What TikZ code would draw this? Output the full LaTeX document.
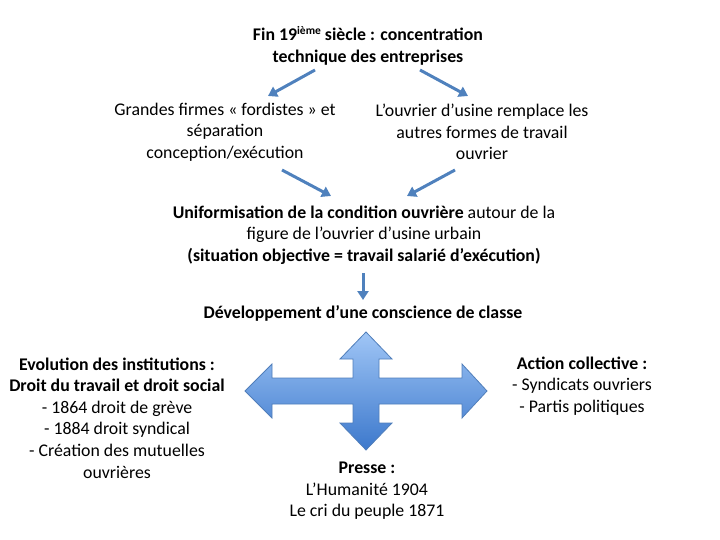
\documentclass[tikz,border=0pt]{standalone}
\usepackage{fontspec}
\setmainfont{Carlito}
\usetikzlibrary{arrows.meta}
\definecolor{flowblue}{RGB}{79,129,189}
\definecolor{crosstop}{RGB}{160,198,246}
\definecolor{crossbot}{RGB}{60,120,204}
\definecolor{crossline}{RGB}{80,126,186}

\begin{document}
\begin{tikzpicture}[x=1pt,y=-1pt,
            every node/.style={font=\fontsize{17.8}{21.6}\selectfont,align=center,inner sep=0pt},
            flow/.style={draw=flowblue,line width=3pt,-{Triangle[length=9pt,width=11pt]}}]
            \useasboundingbox (0,0) rectangle (720,540);

            \node (title) at (368,46){\textbf{Fin 19\raisebox{6pt}{\fontsize{11.5}{12}\selectfont ième} siècle : concentration}\\\textbf{technique des entreprises}};
            \node (firmes) at (225,132){Grandes firmes « fordistes » et\\séparation\\conception/exécution};
            \node (usine) at (482,132){L’ouvrier d’usine remplace les\\autres formes de travail\\ouvrier};
            \node (uniform) at (364,235){\textbf{Uniformisation de la condition ouvrière} autour de la\\figure de l’ouvrier d’usine urbain\\\textbf{(situation objective = travail salarié d’exécution)}};
            \node (conscience) at (363,313){\textbf{Développement d’une conscience de classe}};
            \node (instit) at (117,418){\textbf{Evolution des institutions :}\\\textbf{Droit du travail et droit social}\\- 1864 droit de grève\\- 1884 droit syndical\\- Création des mutuelles\\ouvrières};
            \node (action) at (582,386){\textbf{Action collective :}\\- Syndicats ouvriers\\- Partis politiques};
            \node (presse) at (367,491){\textbf{Presse :}\\L’Humanité 1904\\Le cri du peuple 1871};

            \coordinate (t_l) at (315,70);
            \coordinate (t_r) at (420,70);
            \coordinate (f_b) at (282,170);
            \coordinate (u_b) at (455,170);
            \coordinate (n_l) at (268,96);
            \coordinate (n_r) at (468,96);
            \coordinate (c_l) at (331,196);
            \coordinate (c_r) at (407,196);
            \coordinate (s_t) at (363,273);
            \coordinate (s_b) at (363,300);

            \draw[flow] (t_l) -- (n_l);
            \draw[flow] (t_r) -- (n_r);
            \draw[flow] (f_b) -- (c_l);
            \draw[flow] (u_b) -- (c_r);
            \draw[flow] (s_t) -- (s_b);

            \draw[draw=crossline,line width=0.8pt,top color=crosstop,bottom color=crossbot]
              (366,332) -- (392,359) -- (379,359) -- (379,378) -- (462,378) -- (462,364)
              -- (487,391) -- (462,418) -- (462,404) -- (379,404) -- (379,423) -- (392,423)
              -- (366,450) -- (340,423) -- (353,423) -- (353,404) -- (272,404) -- (272,418)
              -- (245,391) -- (272,364) -- (272,378) -- (353,378) -- (353,359) -- (340,359) -- cycle;
          \end{tikzpicture}
\end{document}
